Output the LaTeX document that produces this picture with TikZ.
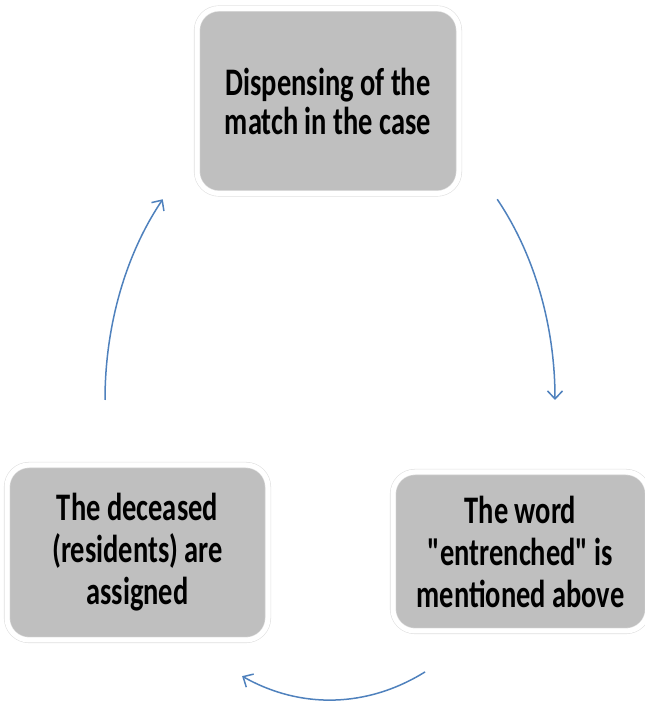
\documentclass[tikz,border=0pt]{standalone}
\usepackage{fontspec}
\usepackage{tikz}
\usetikzlibrary{positioning,arrows.meta}
\newfontfamily\boxfont[FakeStretch=0.73]{Carlito}
\definecolor{flowblue}{HTML}{4F81BD}
\definecolor{boxgray}{HTML}{BFBFBF}

\begin{document}
\begin{tikzpicture}[x=1pt, y=1pt, >={Straight Barb[length=8pt,width=15pt]},
    stage/.style={draw=black!12, line width=0.6pt, double=white, double distance=5pt,
                  fill=boxgray, rounded corners=22pt, align=center, inner sep=0pt,
                  font=\boxfont\bfseries\fontsize{39}{42}\selectfont},
    flow/.style={->, flowblue, line width=1.5pt}]
  \useasboundingbox (0,0) rectangle (645,702);

  % ---- stages
  \node[stage, minimum width=262pt, minimum height=185pt,
        font=\boxfont\bfseries\fontsize{39}{39}\selectfont] (match) at (328,601)
    {Dispensing of the\\match in the case};
  \node[stage, minimum width=255pt, minimum height=159pt] (word) at (520.5,150.5)
    {The word\\"entrenched" is\\mentioned above};
  \node[stage, minimum width=261pt, minimum height=175pt] (dead) at (137.5,149.5)
    {The deceased\\(residents) are\\assigned};

  % ---- cycle arrows
  \coordinate (o) at (330,302);
  \foreach \a/\b in {42/0, -65/-113, 180/138}
    \draw[flow] ([shift={(\a:225 and 300)}]o) arc[start angle=\a, end angle=\b, x radius=225, y radius=300];
\end{tikzpicture}
\end{document}
